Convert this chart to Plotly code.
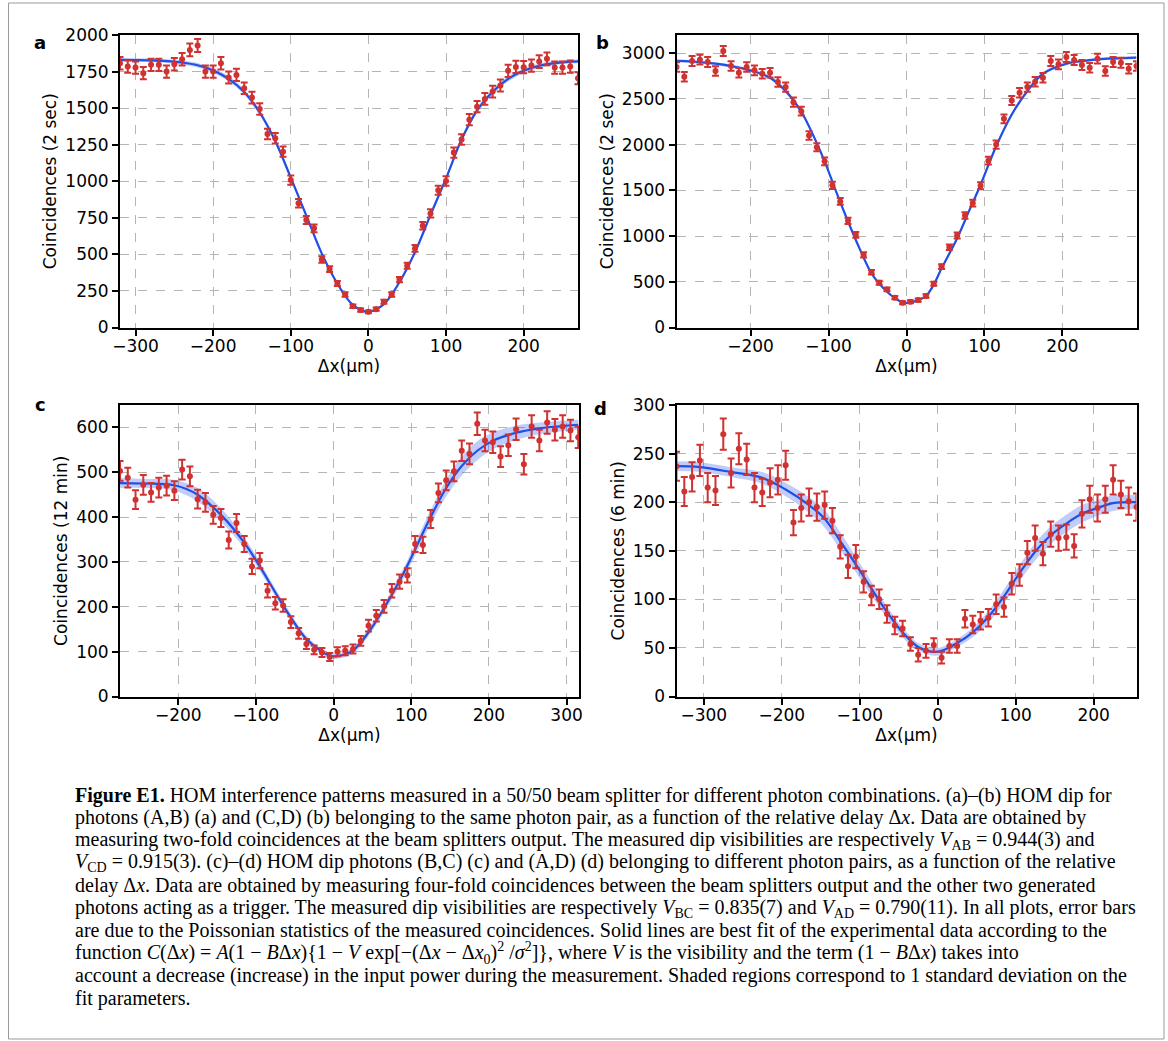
import plotly.graph_objects as go

W, H = 1168, 1041

# ---------------- data: panel a ----------------
x_a = list(range(-320, 271, 10))
y_a = [1807, 1784, 1777, 1739, 1796, 1796, 1750, 1800, 1834, 1898,
       1928, 1750, 1750, 1807, 1709, 1727, 1636, 1572, 1494, 1323,
       1294, 1202, 1008, 849, 735, 678, 465, 399, 301, 226,
       146, 119, 107, 125, 176, 226, 328, 422, 541, 696,
       780, 938, 1002, 1196, 1285, 1421, 1510, 1563, 1613, 1654,
       1755, 1782, 1780, 1791, 1818, 1837, 1777, 1777, 1784, 1704]
err_a = [43, 42, 42, 42, 42, 42, 42, 42, 43, 44,
         44, 42, 42, 43, 41, 42, 40, 40, 39, 36,
         36, 35, 32, 29, 27, 26, 22, 20, 17, 15,
         12, 11, 10, 11, 13, 15, 18, 21, 23, 26,
         28, 31, 32, 35, 36, 38, 39, 40, 40, 41,
         42, 42, 42, 42, 43, 43, 42, 42, 42, 41]
fitx_a = [-320, -300, -280, -260, -240, -220, -200, -180, -160, -140, -120, -100, -80, -60, -40, -20, 0,
          20, 40, 60, 80, 100, 120, 140, 160, 180, 200, 220, 240, 260, 270]
fity_a = [1830, 1829, 1827, 1822, 1812, 1793, 1758, 1700, 1610, 1470, 1275, 1025, 765, 505, 300, 155, 108,
          160, 310, 515, 770, 1020, 1285, 1485, 1612, 1700, 1755, 1790, 1808, 1818, 1820]
band_a = [12, 12, 12, 13, 14, 15, 16, 18, 19, 19, 18, 16, 14, 12, 10, 8, 7,
          8, 10, 12, 14, 16, 18, 19, 19, 18, 16, 15, 14, 13, 13]

# ---------------- data: panel b ----------------
x_b = list(range(-295, 296, 10))
y_b = [2850, 2744, 2916, 2930, 2904, 2806, 3025, 2861, 2787, 2850,
       2813, 2776, 2787, 2685, 2630, 2465, 2367, 2100, 1972, 1818,
       1555, 1379, 1167, 1013, 794, 604, 490, 417, 326, 271,
       282, 300, 344, 479, 666, 878, 1006, 1225, 1361, 1551,
       1825, 2001, 2283, 2484, 2568, 2630, 2689, 2733, 2915, 2879,
       2959, 2926, 2872, 2842, 2941, 2806, 2904, 2897, 2831, 2861]
err_b = [53, 52, 54, 54, 54, 53, 55, 53, 53, 53,
         53, 53, 53, 52, 51, 50, 49, 46, 44, 43,
         39, 37, 34, 32, 28, 25, 22, 20, 18, 16,
         17, 17, 19, 22, 26, 30, 32, 35, 37, 39,
         43, 45, 48, 50, 51, 51, 52, 52, 54, 54,
         54, 54, 54, 53, 54, 53, 54, 54, 53, 53]
fitx_b = [-295, -275, -245, -225, -205, -175, -155, -135, -120, -105, -90, -75, -60, -45, -35, -25, -15, -5,
          5, 15, 25, 35, 45, 65, 80, 95, 115, 135, 155, 175, 205, 225, 245, 295]
fity_b = [2916, 2910, 2886, 2860, 2824, 2733, 2586, 2360, 2110, 1818, 1480, 1160, 860, 593, 480, 391, 322, 275,
          272, 300, 345, 470, 647, 977, 1270, 1562, 1983, 2330, 2586, 2776, 2886, 2915, 2934, 2952]
band_b = [15, 15, 16, 17, 18, 20, 22, 24, 24, 22, 20, 18, 16, 14, 12, 11, 10, 10,
          10, 10, 11, 12, 14, 18, 20, 22, 24, 24, 22, 20, 18, 16, 15, 15]

# ---------------- data: panel c ----------------
x_c = list(range(-275, 316, 10))
y_c = [503, 488, 439, 472, 455, 466, 470, 459, 506, 491,
       440, 433, 405, 398, 349, 387, 340, 290, 303, 236,
       208, 203, 166, 141, 117, 104, 98, 88, 100, 102,
       106, 124, 158, 180, 201, 236, 256, 270, 340, 338,
       396, 454, 482, 502, 548, 541, 608, 571, 567, 535,
       560, 596, 518, 602, 571, 611, 595, 602, 593, 578]
err_c = [22, 22, 21, 22, 21, 22, 22, 21, 22, 22,
         21, 21, 20, 20, 19, 20, 18, 17, 17, 15,
         14, 14, 13, 12, 11, 10, 10, 9, 10, 10,
         10, 11, 13, 13, 14, 15, 16, 16, 18, 18,
         20, 21, 22, 22, 23, 23, 25, 24, 24, 23,
         24, 24, 23, 25, 24, 25, 24, 25, 24, 24]
fitx_c = [-275, -245, -205, -175, -145, -115, -95, -75, -55, -35, -15, -5,
          5, 25, 45, 65, 85, 95, 105, 125, 145, 165, 185, 205, 235, 265, 315]
fity_c = [476, 475, 471, 450, 405, 343, 290, 232, 176, 128, 100, 91,
          90, 103, 143, 197, 258, 292, 328, 400, 465, 514, 548, 570, 588, 598, 606]
band_c = [11, 10, 12, 15, 15, 12, 10, 9, 8, 7, 6, 6,
          6, 7, 8, 9, 11, 12, 14, 16, 19, 21, 21, 19, 16, 13, 11]

# ---------------- data: panel d ----------------
x_d = list(range(-335, 256, 10))
y_d = [237, 211, 226, 243, 215, 212, 270, 230, 255, 244,
       215, 210, 220, 223, 238, 179, 194, 200, 195, 197,
       181, 154, 134, 144, 118, 104, 100, 85, 73, 70,
       54, 43, 47, 53, 40, 52, 52, 80, 74, 78,
       81, 95, 92, 116, 125, 148, 163, 147, 167, 163,
       164, 155, 188, 203, 194, 203, 223, 208, 201, 195]
err_d = [15, 15, 15, 16, 15, 15, 16, 15, 16, 16,
         15, 14, 15, 15, 15, 13, 14, 14, 14, 14,
         13, 12, 12, 12, 11, 10, 10, 9, 9, 8,
         7, 7, 7, 7, 6, 7, 7, 9, 9, 9,
         9, 10, 10, 11, 11, 12, 13, 12, 13, 13,
         13, 12, 14, 14, 14, 14, 15, 14, 14, 14]
fitx_d = [-335, -305, -265, -225, -195, -165, -145, -125, -105, -85, -65, -45, -25, -5,
          5, 25, 45, 65, 85, 105, 125, 145, 165, 185, 205, 225, 255]
fity_d = [237, 236, 231, 225, 213, 197, 183, 160, 136, 111, 87, 66, 51, 46,
          47, 55, 66, 82, 103, 127, 149, 166, 178, 188, 194, 199, 200]
band_d = [5, 5, 5, 6, 7, 8, 9, 9, 8, 7, 6, 5, 4, 4,
          4, 4, 5, 6, 7, 8, 9, 9, 9, 9, 8, 8, 7]

# ---------------- ticks / labels ----------------
xt_a = [-300, -200, -100, 0, 100, 200]
xt_b = [-200, -100, 0, 100, 200]
xt_c = [-200, -100, 0, 100, 200, 300]
xt_d = [-300, -200, -100, 0, 100, 200]
yt_a = [0, 250, 500, 750, 1000, 1250, 1500, 1750, 2000]
yt_b = [0, 500, 1000, 1500, 2000, 2500, 3000]
yt_c = [0, 100, 200, 300, 400, 500, 600]
yt_d = [0, 50, 100, 150, 200, 250, 300]
ytitles = ["Coincidences (2 sec)", "Coincidences (2 sec)", "Coincidences (12 min)", "Coincidences (6 min)"]
xtitle = "Δx(μm)"
panel_letters = ["a", "b", "c", "d"]


def lab(v):
    return ("−" + str(-v)) if v < 0 else str(v)


def px(xpix):
    return xpix / W


def py(ypix):
    return 1 - ypix / H


RED = "#d03131"
BLUE = "#1f4fe6"
BAND = "rgba(60,100,235,0.32)"

panels = [
    dict(x=x_a, y=y_a, e=err_a, fx=fitx_a, fy=fity_a, fb=band_a, xr=[-320, 270], yr=[0, 2000], xt=xt_a, yt=yt_a,
         dx=[120, 578], dy=[35, 327.5]),
    dict(x=x_b, y=y_b, e=err_b, fx=fitx_b, fy=fity_b, fb=band_b, xr=[-295, 295], yr=[0, 3200], xt=xt_b, yt=yt_b,
         dx=[676.5, 1136.5], dy=[35, 327.5]),
    dict(x=x_c, y=y_c, e=err_c, fx=fitx_c, fy=fity_c, fb=band_c, xr=[-275, 316], yr=[0, 650], xt=xt_c, yt=yt_c,
         dx=[120, 579], dy=[405, 696.5]),
    dict(x=x_d, y=y_d, e=err_d, fx=fitx_d, fy=fity_d, fb=band_d, xr=[-335, 255], yr=[0, 300], xt=xt_d, yt=yt_d,
         dx=[676.5, 1136.5], dy=[405, 696.5]),
]

fig = go.Figure()
layout = dict(width=W, height=H, margin=dict(l=0, r=0, t=0, b=0), showlegend=False,
              plot_bgcolor="white", paper_bgcolor="white")
tickfont = dict(family="DejaVu Sans", size=17, color="black")
titlefont = dict(family="DejaVu Sans", size=17, color="black")

for i, p in enumerate(panels):
    n = i + 1
    xa = "x" if n == 1 else f"x{n}"
    ya = "y" if n == 1 else f"y{n}"
    upper = [f + b for f, b in zip(p["fy"], p["fb"])]
    lower = [f - b for f, b in zip(p["fy"], p["fb"])]
    fig.add_trace(go.Scatter(x=p["fx"], y=upper, mode="lines", line=dict(width=0, shape="spline", smoothing=1.0),
                             xaxis=xa, yaxis=ya, hoverinfo="skip"))
    fig.add_trace(go.Scatter(x=p["fx"], y=lower, mode="lines", line=dict(width=0, shape="spline", smoothing=1.0),
                             fill="tonexty", fillcolor=BAND, xaxis=xa, yaxis=ya, hoverinfo="skip"))
    fig.add_trace(go.Scatter(x=p["fx"], y=p["fy"], mode="lines",
                             line=dict(color=BLUE, width=2.2, shape="spline", smoothing=1.0),
                             xaxis=xa, yaxis=ya))
    fig.add_trace(go.Scatter(x=p["x"], y=p["y"], mode="markers",
                             marker=dict(color=RED, size=6),
                             error_y=dict(type="data", array=p["e"], visible=True, color=RED, thickness=2, width=3.5),
                             xaxis=xa, yaxis=ya, cliponaxis=True))
    axkey = "xaxis" if n == 1 else f"xaxis{n}"
    aykey = "yaxis" if n == 1 else f"yaxis{n}"
    common = dict(showline=True, linecolor="black", linewidth=2, mirror=True, ticks="outside", ticklen=6,
                  tickwidth=1.5, tickcolor="black", showgrid=True, gridcolor="#b5b5b5", griddash="dash",
                  gridwidth=1, zeroline=False, tickfont=tickfont, automargin=False)
    layout[axkey] = dict(common, domain=[px(p["dx"][0]), px(p["dx"][1])], range=p["xr"], anchor=ya,
                         tickmode="array", tickvals=p["xt"], ticktext=[lab(v) for v in p["xt"]],
                         ticklabelstandoff=-4,
                         title=dict(text=xtitle, font=titlefont, standoff=1))
    layout[aykey] = dict(common, domain=[py(p["dy"][1]), py(p["dy"][0])], range=p["yr"], anchor=xa,
                         tickmode="array", tickvals=p["yt"], ticktext=[lab(v) for v in p["yt"]],
                         title=dict(text=ytitles[i], font=titlefont, standoff=4))

fig.update_layout(**layout)

# panel letters
letter_pos = [(40, 43), (602, 43), (40, 404), (600, 409)]
for t, (lx, ly) in zip(panel_letters, letter_pos):
    fig.add_annotation(x=px(lx), y=py(ly), xref="paper", yref="paper", text=f"<b>{t}</b>", showarrow=False,
                       font=dict(family="DejaVu Sans", size=18, color="black"), xanchor="center", yanchor="middle")

caption = [
    "<b>Figure E1.</b> HOM interference patterns measured in a 50/50 beam splitter for different photon combinations. (a)–(b) HOM dip for",
    "photons (A,B) (a) and (C,D) (b) belonging to the same photon pair, as a function of the relative delay Δ<i>x</i>. Data are obtained by",
    "measuring two-fold coincidences at the beam splitters output. The measured dip visibilities are respectively <i>V</i><sub>AB</sub> = 0.944(3) and",
    "<i>V</i><sub>CD</sub> = 0.915(3). (c)–(d) HOM dip photons (B,C) (c) and (A,D) (d) belonging to different photon pairs, as a function of the relative",
    "delay Δ<i>x</i>. Data are obtained by measuring four-fold coincidences between the beam splitters output and the other two generated",
    "photons acting as a trigger. The measured dip visibilities are respectively <i>V</i><sub>BC</sub> = 0.835(7) and <i>V</i><sub>AD</sub> = 0.790(11). In all plots, error bars",
    "are due to the Poissonian statistics of the measured coincidences. Solid lines are best fit of the experimental data according to the",
    "function <i>C</i>(Δ<i>x</i>) = <i>A</i>(1 − <i>B</i>Δ<i>x</i>){1 − <i>V</i> exp[−(Δ<i>x</i> − Δ<i>x</i><sub>0</sub>)<sup>2</sup> /<i>σ</i><sup>2</sup>]}, where <i>V</i> is the visibility and the term (1 − <i>B</i>Δ<i>x</i>) takes into",
    "account a decrease (increase) in the input power during the measurement. Shaded regions correspond to 1 standard deviation on the",
    "fit parameters.",
]
cap_y0, cap_dy = 795, 22.6
for k, line in enumerate(caption):
    fig.add_annotation(x=px(73), y=py(cap_y0 + k * cap_dy), xref="paper", yref="paper", text=line,
                       showarrow=False, xanchor="left", yanchor="middle", align="left",
                       font=dict(family="Liberation Serif", size=20, color="black"))

# outer frame
fig.add_shape(type="rect", xref="paper", yref="paper", x0=px(8.5), x1=px(1164), y0=py(1039), y1=py(3),
              line=dict(color="#9a9a9a", width=1), fillcolor="rgba(0,0,0,0)", layer="below")

fig.write_html("out.html", config={"displayModeBar": False},
               post_script="document.body.style.margin='0px';")
